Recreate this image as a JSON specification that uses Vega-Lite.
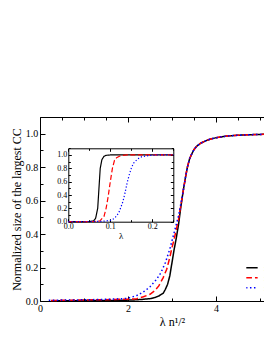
{
"$schema": "https://vega.github.io/schema/vega-lite/v6.json",
"width": 264, "height": 184,
"autosize": {"type": "none"},
"padding": {"left": 40, "top": 117, "right": 0, "bottom": 40},
"background": "white",
"config": {
 "font": "Liberation Serif, Times New Roman, serif",
 "view": {"stroke": null},
 "axis": {"labelFont": "Liberation Serif, Times New Roman, serif", "titleFont": "Liberation Serif, Times New Roman, serif", "grid": false, "domainColor": "black", "tickColor": "black", "labelColor": "black", "titleColor": "black", "titleFontWeight": "normal", "labelFlush": false, "labelOverlap": false, "domainWidth": 1, "tickWidth": 1},
 "legend": {"labelFont": "Liberation Serif, Times New Roman, serif", "labelColor": "black"}
},
"datasets": {
 "main": [
  {"series":"n=2000","x":0.3,"y":0.001},{"series":"n=2000","x":0.8,"y":0.002},{"series":"n=2000","x":1.3,"y":0.003},{"series":"n=2000","x":1.8,"y":0.004},{"series":"n=2000","x":2.1,"y":0.006},{"series":"n=2000","x":2.3,"y":0.009},{"series":"n=2000","x":2.5,"y":0.014},{"series":"n=2000","x":2.6,"y":0.02},{"series":"n=2000","x":2.7,"y":0.03},{"series":"n=2000","x":2.8,"y":0.046},{"series":"n=2000","x":2.85,"y":0.07},{"series":"n=2000","x":2.9,"y":0.1},{"series":"n=2000","x":2.95,"y":0.15},{"series":"n=2000","x":3.0,"y":0.23},{"series":"n=2000","x":3.05,"y":0.31},{"series":"n=2000","x":3.1,"y":0.38},{"series":"n=2000","x":3.15,"y":0.46},{"series":"n=2000","x":3.2,"y":0.56},{"series":"n=2000","x":3.25,"y":0.65},{"series":"n=2000","x":3.3,"y":0.73},{"series":"n=2000","x":3.35,"y":0.8},{"series":"n=2000","x":3.4,"y":0.85},{"series":"n=2000","x":3.45,"y":0.88},{"series":"n=2000","x":3.5,"y":0.905},{"series":"n=2000","x":3.56,"y":0.925},{"series":"n=2000","x":3.65,"y":0.943},{"series":"n=2000","x":3.75,"y":0.956},{"series":"n=2000","x":3.86,"y":0.967},{"series":"n=2000","x":4.0,"y":0.976},{"series":"n=2000","x":4.24,"y":0.986},{"series":"n=2000","x":4.5,"y":0.991},{"series":"n=2000","x":4.75,"y":0.994},{"series":"n=2000","x":5.0,"y":0.996},{"series":"n=2000","x":5.5,"y":0.998},{"series":"n=2000","x":6.0,"y":0.999},
  {"series":"n=1000","x":0.25,"y":0.003},{"series":"n=1000","x":0.7,"y":0.005},{"series":"n=1000","x":1.2,"y":0.007},{"series":"n=1000","x":1.7,"y":0.009},{"series":"n=1000","x":2.0,"y":0.011},{"series":"n=1000","x":2.2,"y":0.014},{"series":"n=1000","x":2.35,"y":0.025},{"series":"n=1000","x":2.5,"y":0.04},{"series":"n=1000","x":2.6,"y":0.06},{"series":"n=1000","x":2.7,"y":0.09},{"series":"n=1000","x":2.8,"y":0.14},{"series":"n=1000","x":2.88,"y":0.19},{"series":"n=1000","x":2.95,"y":0.26},{"series":"n=1000","x":3.0,"y":0.32},{"series":"n=1000","x":3.05,"y":0.37},{"series":"n=1000","x":3.1,"y":0.43},{"series":"n=1000","x":3.15,"y":0.49},{"series":"n=1000","x":3.2,"y":0.57},{"series":"n=1000","x":3.25,"y":0.65},{"series":"n=1000","x":3.3,"y":0.73},{"series":"n=1000","x":3.35,"y":0.8},{"series":"n=1000","x":3.4,"y":0.85},{"series":"n=1000","x":3.45,"y":0.88},{"series":"n=1000","x":3.5,"y":0.905},{"series":"n=1000","x":3.56,"y":0.925},{"series":"n=1000","x":3.65,"y":0.943},{"series":"n=1000","x":3.75,"y":0.956},{"series":"n=1000","x":3.86,"y":0.967},{"series":"n=1000","x":4.0,"y":0.976},{"series":"n=1000","x":4.24,"y":0.986},{"series":"n=1000","x":4.5,"y":0.991},{"series":"n=1000","x":4.75,"y":0.994},{"series":"n=1000","x":5.0,"y":0.996},{"series":"n=1000","x":5.5,"y":0.998},{"series":"n=1000","x":6.0,"y":0.999},
  {"series":"n=500","x":0.2,"y":0.004},{"series":"n=500","x":0.6,"y":0.006},{"series":"n=500","x":1.0,"y":0.007},{"series":"n=500","x":1.5,"y":0.01},{"series":"n=500","x":1.8,"y":0.013},{"series":"n=500","x":2.0,"y":0.016},{"series":"n=500","x":2.2,"y":0.033},{"series":"n=500","x":2.35,"y":0.054},{"series":"n=500","x":2.5,"y":0.085},{"series":"n=500","x":2.65,"y":0.13},{"series":"n=500","x":2.75,"y":0.17},{"series":"n=500","x":2.85,"y":0.23},{"series":"n=500","x":2.95,"y":0.31},{"series":"n=500","x":3.0,"y":0.36},{"series":"n=500","x":3.05,"y":0.41},{"series":"n=500","x":3.1,"y":0.46},{"series":"n=500","x":3.15,"y":0.51},{"series":"n=500","x":3.2,"y":0.58},{"series":"n=500","x":3.25,"y":0.65},{"series":"n=500","x":3.3,"y":0.73},{"series":"n=500","x":3.35,"y":0.8},{"series":"n=500","x":3.4,"y":0.85},{"series":"n=500","x":3.45,"y":0.88},{"series":"n=500","x":3.5,"y":0.905},{"series":"n=500","x":3.56,"y":0.925},{"series":"n=500","x":3.65,"y":0.943},{"series":"n=500","x":3.75,"y":0.956},{"series":"n=500","x":3.86,"y":0.967},{"series":"n=500","x":4.0,"y":0.976},{"series":"n=500","x":4.24,"y":0.986},{"series":"n=500","x":4.5,"y":0.991},{"series":"n=500","x":4.75,"y":0.994},{"series":"n=500","x":5.0,"y":0.996},{"series":"n=500","x":5.5,"y":0.998},{"series":"n=500","x":6.0,"y":0.999}
 ],
 "inset": [
  {"series":"n=2000","x":0.0,"y":0.0},{"series":"n=2000","x":0.05,"y":0.003},{"series":"n=2000","x":0.06,"y":0.01},{"series":"n=2000","x":0.065,"y":0.05},{"series":"n=2000","x":0.07,"y":0.2},{"series":"n=2000","x":0.073,"y":0.5},{"series":"n=2000","x":0.076,"y":0.8},{"series":"n=2000","x":0.08,"y":0.93},{"series":"n=2000","x":0.085,"y":0.98},{"series":"n=2000","x":0.09,"y":0.995},{"series":"n=2000","x":0.1,"y":1.0},{"series":"n=2000","x":0.25,"y":1.0},
  {"series":"n=1000","x":0.0,"y":0.0},{"series":"n=1000","x":0.06,"y":0.003},{"series":"n=1000","x":0.075,"y":0.01},{"series":"n=1000","x":0.085,"y":0.08},{"series":"n=1000","x":0.09,"y":0.2},{"series":"n=1000","x":0.095,"y":0.38},{"series":"n=1000","x":0.1,"y":0.6},{"series":"n=1000","x":0.105,"y":0.8},{"series":"n=1000","x":0.11,"y":0.92},{"series":"n=1000","x":0.115,"y":0.96},{"series":"n=1000","x":0.125,"y":0.99},{"series":"n=1000","x":0.14,"y":1.0},{"series":"n=1000","x":0.25,"y":1.0},
  {"series":"n=500","x":0.0,"y":0.0},{"series":"n=500","x":0.08,"y":0.005},{"series":"n=500","x":0.1,"y":0.02},{"series":"n=500","x":0.11,"y":0.05},{"series":"n=500","x":0.12,"y":0.13},{"series":"n=500","x":0.13,"y":0.3},{"series":"n=500","x":0.135,"y":0.43},{"series":"n=500","x":0.14,"y":0.58},{"series":"n=500","x":0.145,"y":0.7},{"series":"n=500","x":0.15,"y":0.8},{"series":"n=500","x":0.155,"y":0.875},{"series":"n=500","x":0.165,"y":0.94},{"series":"n=500","x":0.175,"y":0.975},{"series":"n=500","x":0.19,"y":0.99},{"series":"n=500","x":0.21,"y":1.0},{"series":"n=500","x":0.25,"y":1.0}
 ]
},
"layer": [
 {
  "data": {"name": "main"},
  "mark": {"type": "line", "strokeWidth": 1.5},
  "encoding": {
   "x": {"field": "x", "type": "quantitative", "scale": {"domain": [0, 6], "nice": false, "zero": false},
    "axis": {"orient": "bottom", "values": [0,0.5,1,1.5,2,2.5,3,3.5,4,4.5,5,5.5,6], "format": "d",
     "tickSize": {"condition": {"test": "datum.value % 2 == 0", "value": -5}, "value": -3},
     "labelPadding": 7, "labelFontSize": 10,
     "labelExpr": "datum.value % 2 == 0 ? datum.label : ''",
     "title": "λ n¹/²", "titleFontSize": 12, "titlePadding": 1}},
   "y": {"field": "y", "type": "quantitative", "scale": {"domain": [0, 1.1], "nice": false, "zero": false},
    "axis": {"orient": "left", "values": [0,0.1,0.2,0.3,0.4,0.5,0.6,0.7,0.8,0.9,1.0,1.1], "format": ".1f",
     "tickSize": {"condition": {"test": "round(datum.value*10) % 2 == 0", "value": -5}, "value": -3},
     "labelPadding": 7.3, "labelFontSize": 10,
     "labelExpr": "round(datum.value*10) % 2 == 0 && datum.value < 1.05 ? datum.label : ''",
     "title": "Normalized size of the largest CC", "titleFontSize": 12, "titlePadding": 2}},
   "color": {"field": "series", "type": "nominal",
    "scale": {"domain": ["n=2000", "n=1000", "n=500"], "range": ["#000000", "#ff0000", "#0000ff"]},
    "legend": {"orient": "none", "legendX": 206.3, "legendY": 146.2, "title": null, "symbolType": "M-1.3,0H1.3", "symbolSize": 81, "symbolStrokeWidth": 1.5, "labelFontSize": 9, "labelOffset": 6.6, "rowPadding": 0, "clipHeight": 9, "padding": 0}},
   "strokeDash": {"field": "series", "type": "nominal",
    "scale": {"domain": ["n=2000", "n=1000", "n=500"], "range": [[1, 0], [6, 3], [1.5, 2.5]]},
    "legend": {"orient": "none", "legendX": 206.3, "legendY": 146.2, "title": null, "symbolType": "M-1.3,0H1.3", "symbolSize": 81, "symbolStrokeWidth": 1.5, "labelFontSize": 9, "labelOffset": 6.6, "rowPadding": 0, "clipHeight": 9, "padding": 0}}
  }
 },
 {
  "data": {"name": "main"},
  "mark": {"type": "point", "opacity": 0},
  "encoding": {
   "x": {"field": "x", "type": "quantitative", "scale": {"domain": [0, 6], "nice": false, "zero": false},
    "axis": {"orient": "top", "values": [0,0.5,1,1.5,2,2.5,3,3.5,4,4.5,5,5.5,6], "labels": false, "title": null,
     "tickSize": {"condition": {"test": "datum.value % 2 == 0", "value": -5}, "value": -3}}}
  }
 },
 {
  "data": {"name": "inset"},
  "mark": {"type": "line", "strokeWidth": 1.2},
  "encoding": {
   "x": {"field": "x", "type": "quantitative", "scale": {"domain": [0, 0.25], "range": [28.3, 133.3], "nice": false, "zero": false},
    "axis": {"orient": "bottom", "offset": -79.3, "values": [0,0.05,0.1,0.15,0.2,0.25], "format": ".1f",
     "tickSize": {"condition": {"test": "round(datum.value*100) % 10 == 0", "value": -3}, "value": -2},
     "labelPadding": 3.5, "labelFontSize": 8,
     "labelExpr": "round(datum.value*100) % 10 == 0 ? datum.label : ''",
     "title": "λ", "titleFontSize": 9, "titlePadding": 0}},
   "y": {"field": "y", "type": "quantitative", "scale": {"domain": [0, 1.1], "range": [104.7, 31.3], "nice": false, "zero": false},
    "axis": {"orient": "left", "offset": -28.3, "values": [0,0.1,0.2,0.3,0.4,0.5,0.6,0.7,0.8,0.9,1.0,1.1], "format": ".1f",
     "tickSize": {"condition": {"test": "round(datum.value*10) % 2 == 0", "value": -3}, "value": -2},
     "labelPadding": 4.6, "labelFontSize": 8,
     "labelExpr": "round(datum.value*10) % 2 == 0 && datum.value < 1.05 ? datum.label : ''",
     "title": null}},
   "color": {"field": "series", "type": "nominal", "legend": null,
    "scale": {"domain": ["n=2000", "n=1000", "n=500"], "range": ["#000000", "#ff0000", "#0000ff"]}},
   "strokeDash": {"field": "series", "type": "nominal", "legend": null,
    "scale": {"domain": ["n=2000", "n=1000", "n=500"], "range": [[1, 0], [5, 2.5], [1.2, 2]]}}
  }
 },
 {
  "data": {"name": "inset"},
  "mark": {"type": "point", "opacity": 0},
  "encoding": {
   "x": {"field": "x", "type": "quantitative", "scale": {"domain": [0, 0.25], "range": [28.3, 133.3], "nice": false, "zero": false},
    "axis": {"orient": "top", "offset": -31.3, "values": [0,0.05,0.1,0.15,0.2,0.25], "labels": false, "title": null,
     "tickSize": {"condition": {"test": "round(datum.value*100) % 10 == 0", "value": -3}, "value": -2}}},
   "y": {"field": "y", "type": "quantitative", "scale": {"domain": [0, 1.1], "range": [104.7, 31.3], "nice": false, "zero": false},
    "axis": {"orient": "right", "offset": -130.7, "values": [0,0.1,0.2,0.3,0.4,0.5,0.6,0.7,0.8,0.9,1.0,1.1], "labels": false, "title": null,
     "tickSize": {"condition": {"test": "round(datum.value*10) % 2 == 0", "value": -3}, "value": -2}}}
  }
 }
],
"resolve": {"scale": {"x": "independent", "y": "independent", "color": "independent", "strokeDash": "independent"}}
}
